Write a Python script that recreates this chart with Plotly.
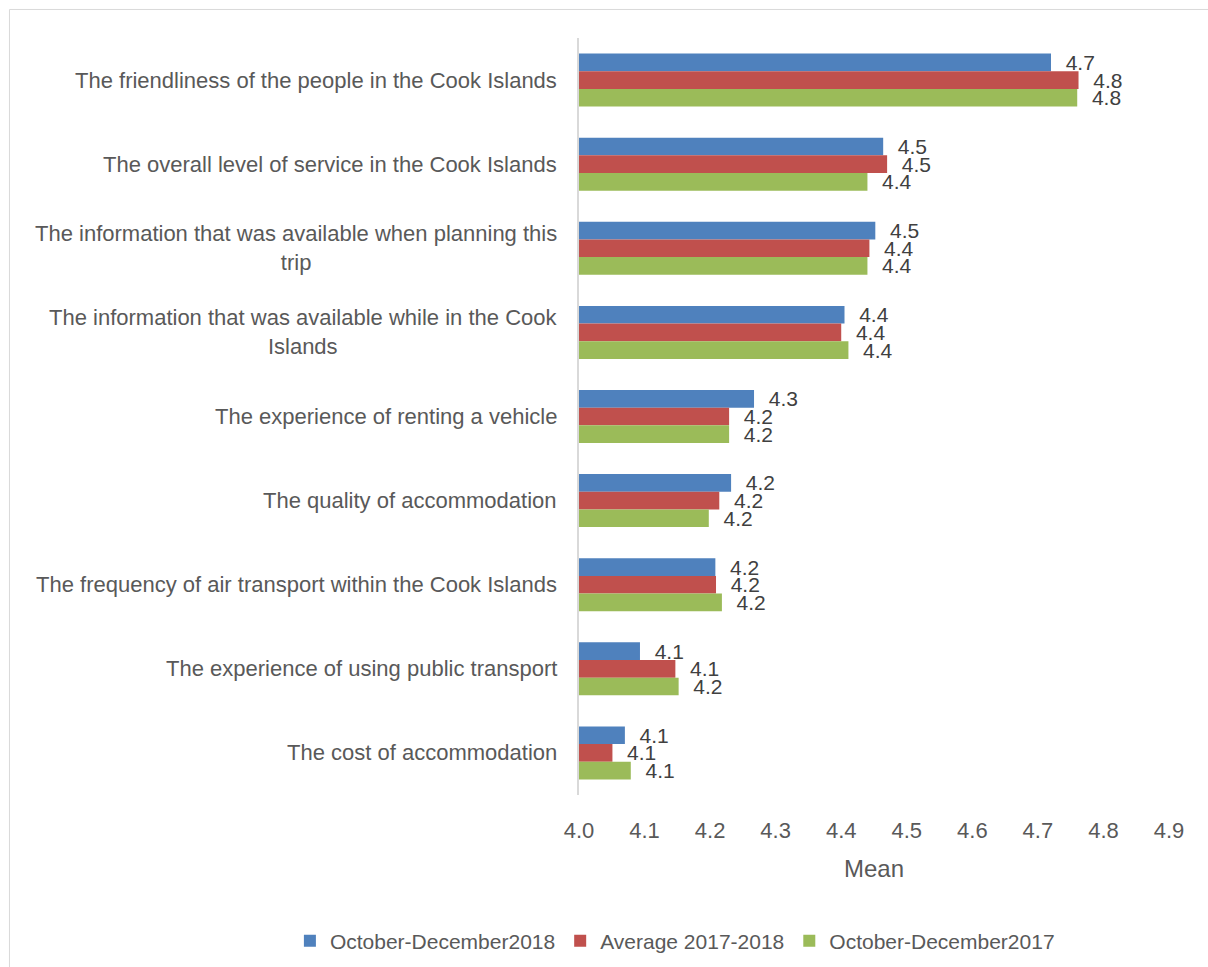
import plotly.graph_objects as go

# Visitor satisfaction items, listed top to bottom
categories = [
    "The friendliness of the people in the Cook Islands",
    "The overall level of service in the Cook Islands",
    "The information that was available when planning this<br>trip",
    "The information that was available while in the Cook<br>Islands",
    "The experience of renting a vehicle",
    "The quality of accommodation",
    "The frequency of air transport within the Cook Islands",
    "The experience of using public transport",
    "The cost of accommodation",
]

series_names = ["October-December2018", "Average 2017-2018", "October-December2017"]

oct_dec_2018 = [4.720, 4.464, 4.452, 4.405, 4.267, 4.232, 4.208, 4.093, 4.070]
avg_2017_2018 = [4.762, 4.470, 4.443, 4.400, 4.229, 4.214, 4.209, 4.147, 4.051]
oct_dec_2017 = [4.760, 4.440, 4.440, 4.411, 4.229, 4.198, 4.218, 4.152, 4.079]

x_ticks = [4.0, 4.1, 4.2, 4.3, 4.4, 4.5, 4.6, 4.7, 4.8, 4.9]

colors = ["#4F81BD", "#C0504D", "#9BBB59"]
FONT = "Liberation Sans, Arial, sans-serif"
LABEL_GREY = "#595959"

fig = go.Figure()
for name, vals, col in zip(series_names, [oct_dec_2018, avg_2017_2018, oct_dec_2017], colors):
    fig.add_trace(go.Bar(
        name=name,
        y=categories,
        x=vals,
        orientation="h",
        marker=dict(color=col, line=dict(width=0)),
        texttemplate="\u00a0\u00a0%{x:.1f}",
        textposition="outside",
        textfont=dict(family=FONT, size=21, color="#404040"),
        constraintext="none",
        cliponaxis=False,
    ))

# Category labels, centred line by line to the left of the axis
for cat in categories:
    fig.add_annotation(
        x=0, xref="paper", xanchor="right", xshift=-20,
        y=cat, yref="y",
        text=cat, showarrow=False, align="center",
        font=dict(family=FONT, size=22, color=LABEL_GREY),
    )

# Light frame around the chart
fig.add_shape(
    type="rect", xref="paper", yref="paper",
    x0=-0.9653, x1=2.0, y0=-1.0, y1=1.0377,
    line=dict(color="#D9D9D9", width=1), fillcolor="rgba(0,0,0,0)", layer="below",
)

fig.update_layout(
    width=1208, height=967,
    margin=dict(l=579, r=39, t=38, b=172, autoexpand=False),
    paper_bgcolor="white", plot_bgcolor="white",
    barmode="group", bargap=0.37, bargroupgap=0,
    font=dict(family=FONT, color=LABEL_GREY),
    showlegend=True,
    legend=dict(
        orientation="h",
        xref="paper", x=-0.49, xanchor="left",
        yref="paper", y=-0.193, yanchor="middle",
        font=dict(family=FONT, size=21, color=LABEL_GREY),
        itemwidth=30, tracegroupgap=0,
    ),
    xaxis=dict(
        range=[4.0, 4.9], tickvals=x_ticks, tickformat=".1f",
        showgrid=False, zeroline=False, showline=False, ticks="",
        ticklabelstandoff=20,
        tickfont=dict(family=FONT, size=22, color=LABEL_GREY),
        title=dict(text="Mean", font=dict(family=FONT, size=24, color=LABEL_GREY), standoff=18),
    ),
    yaxis=dict(
        autorange="reversed", showticklabels=False, ticks="",
        showgrid=False, zeroline=False,
        showline=True, linecolor="#D9D9D9", linewidth=2,
    ),
)

fig.write_html("out.html")
